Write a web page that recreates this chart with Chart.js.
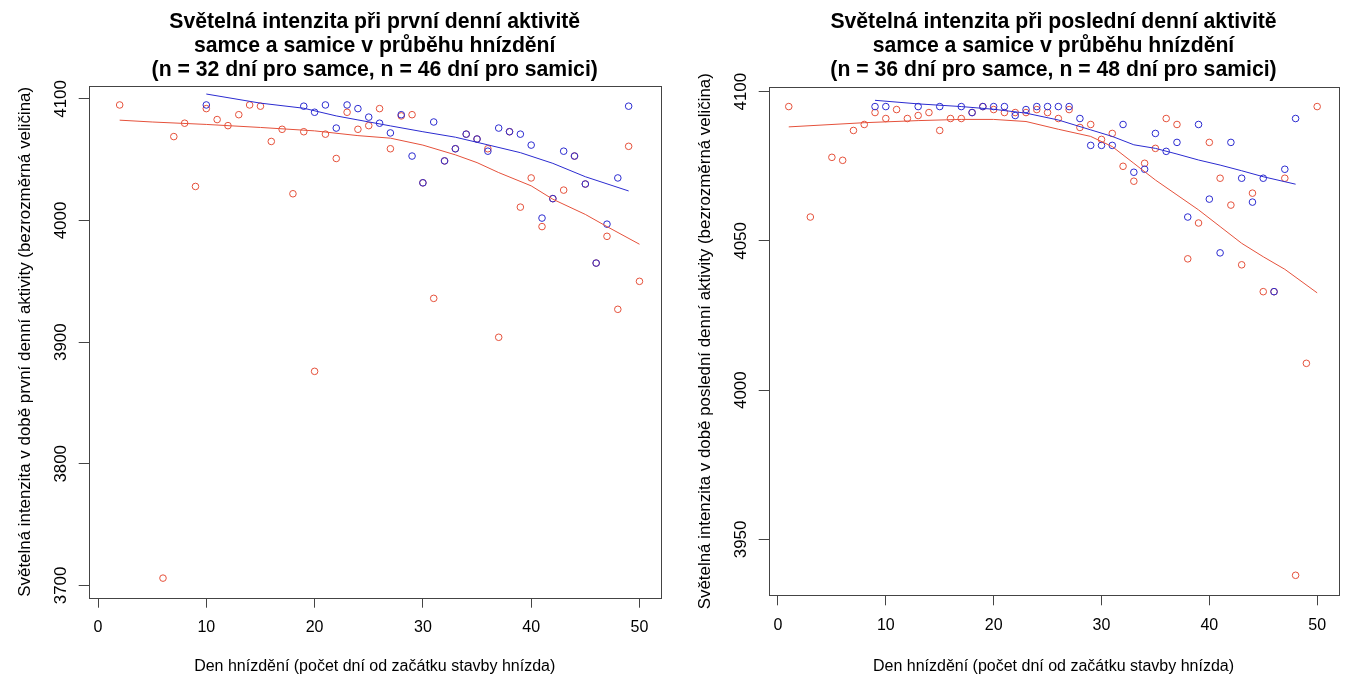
<!DOCTYPE html>
<html>
<head>
<meta charset="utf-8">
<title>Světelná intenzita</title>
<script src="https://cdn.jsdelivr.net/npm/chart.js@4"></script>
<style>
  body { margin: 0; background: #fff; overflow: hidden; }
  canvas { position: absolute; top: 0; }
  #first { left: 0; }
  #last { left: 673px; }
</style>
</head>
<body>
<canvas id="first" width="673" height="682"></canvas>
<canvas id="last" width="673" height="682"></canvas>
<script>
// tick labels
const dayTicks = [0, 10, 20, 30, 40, 50];
const firstLuxTicks = [3700, 3800, 3900, 4000, 4100];
const lastLuxTicks = [3950, 4000, 4050, 4100];

// first activity of the day - male
const firstMaleDays = [10, 19, 20, 21, 22, 23, 24, 25, 26, 27, 28, 29, 30, 31, 32, 33,
  34, 35, 36, 37, 38, 39, 40, 41, 42, 43, 44, 45, 46, 47, 48, 49];
const firstMaleLux = [4095, 4094, 4089, 4095, 4076, 4095, 4092, 4085, 4080, 4072, 4087, 4053, 4031, 4081, 4049, 4059,
  4071, 4067, 4057, 4076, 4073, 4071, 4062, 4002, 4018, 4057, 4053, 4030, 3965, 3997, 4035, 4094];

// first activity of the day - female
const firstFemaleDays = [2, 6, 7, 8, 9, 10, 11, 12, 13, 14, 15, 16, 17, 18, 19, 20, 21, 22, 23, 24, 25, 26, 27,
  28, 29, 30, 31, 32, 33, 34, 35, 36, 37, 38, 39, 40, 41, 42, 43, 44, 45, 46, 47, 48, 49, 50];
const firstFemaleLux = [4095, 3706, 4069, 4080, 4028, 4092, 4083, 4078, 4087, 4095, 4094, 4065, 4075, 4022, 4073, 3876, 4071, 4051, 4089, 4075, 4078, 4092, 4059,
  4086, 4087, 4031, 3936, 4049, 4059, 4071, 4067, 4059, 3904, 4073, 4011, 4035, 3995, 4018, 4025, 4053, 4030, 3965, 3987, 3927, 4061, 3950];

// smoothed trends, first activity
const firstMaleTrendDays = [10, 15, 19, 22, 24, 27, 30, 33, 36, 39, 42, 45, 49];
const firstMaleTrend = [4104, 4096.5, 4092.3, 4086, 4082.7, 4077.8, 4073, 4068.5, 4062.2, 4055.8, 4047, 4036, 4024.3];
const firstFemaleTrendDays = [2, 5, 10, 15, 20, 24, 27, 30, 33, 35, 37, 40, 42, 45, 47, 50];
const firstFemaleTrend = [4082.5, 4081, 4079, 4076.5, 4073.7, 4069.8, 4067.7, 4062, 4054, 4047.6, 4039.4, 4028.5, 4017.5, 4005, 3995, 3980.5];

// last activity of the day - male
const lastMaleDays = [9, 10, 13, 15, 17, 18, 19, 20, 21, 22, 23, 24, 25, 26, 27, 28, 29, 30,
  31, 32, 33, 34, 35, 36, 37, 38, 39, 40, 41, 42, 43, 44, 45, 46, 47, 48];
const lastMaleLux = [4095, 4095, 4095, 4095, 4095, 4093, 4095, 4095, 4095, 4092, 4094, 4095, 4095, 4095, 4095, 4091, 4082, 4082,
  4082, 4089, 4073, 4074, 4086, 4080, 4083, 4058, 4089, 4064, 4046, 4083, 4071, 4063, 4071, 4033, 4074, 4091];

// last activity of the day - female
const lastFemaleDays = [1, 3, 5, 6, 7, 8, 9, 10, 11, 12, 13, 14, 15, 16, 17, 18, 19, 20, 21, 22, 23, 24, 25, 26,
  27, 28, 29, 30, 31, 32, 33, 34, 35, 36, 37, 38, 39, 40, 41, 42, 43, 44, 45, 46, 47, 48, 49, 50];
const lastFemaleLux = [4095, 4058, 4078, 4077, 4087, 4089, 4093, 4091, 4094, 4091, 4092, 4093, 4087, 4091, 4091, 4093, 4095, 4094, 4093, 4093, 4093, 4094, 4093, 4091,
  4094, 4088, 4089, 4084, 4086, 4075, 4070, 4076, 4081, 4091, 4089, 4044, 4056, 4083, 4071, 4062, 4042, 4066, 4033, 4033, 4071, 3938, 4009, 4095];

// smoothed trends, last activity
const lastMaleTrendDays = [9, 13, 17, 20, 23, 26, 29, 31, 33, 35, 37, 39, 41, 43, 45, 48];
const lastMaleTrend = [4097.1, 4095.9, 4095, 4094.1, 4092.8, 4090.5, 4087.2, 4085, 4082.2, 4081, 4079.1, 4077.1, 4075.4, 4073.5, 4071.5, 4069];
const lastFemaleTrendDays = [1, 8, 13, 17, 20, 23, 26, 29, 31, 33, 35, 37, 39, 41, 43, 45, 47, 50];
const lastFemaleTrend = [4088.2, 4089.6, 4090.3, 4090.7, 4090.7, 4090, 4087.4, 4085, 4081.6, 4076, 4070.4, 4065.4, 4060.4, 4054.8, 4049.2, 4044.7, 4040.5, 4032.6];

const MALE = '#2b2bd0';
const FEMALE = '#e5513b';
const FONT = "'Liberation Sans', Arial, sans-serif";

Chart.defaults.font.family = FONT;
Chart.defaults.color = '#000';

function pts(xs, ys) {
  return xs.map((x, i) => ({ x: x, y: ys[i] }));
}

// R-style box around the plot region
const frame = {
  id: 'frame',
  afterDatasetsDraw(chart) {
    const a = chart.chartArea, c = chart.ctx;
    c.save();
    c.strokeStyle = '#444';
    c.lineWidth = 1;
    c.strokeRect(Math.round(a.left) + 0.5, Math.round(a.top) + 0.5,
      Math.round(a.right - a.left), Math.round(a.bottom - a.top));
    c.restore();
  }
};

// center the main title over the plot region, not over the whole canvas
const centerTitle = {
  id: 'centerTitle',
  afterLayout(chart) {
    const t = chart.titleBlock;
    if (!t) return;
    t.left = chart.chartArea.left;
    t.right = chart.chartArea.right;
    t.width = t.right - t.left;
  }
};

function drawPanel(id, p) {
  return new Chart(document.getElementById(id), {
    type: 'scatter',
    data: {
      datasets: [
        { data: pts(p.maleTrendDays, p.maleTrend), showLine: true, borderColor: MALE, borderWidth: 1, pointRadius: 0, order: 0 },
        { data: pts(p.femaleTrendDays, p.femaleTrend), showLine: true, borderColor: FEMALE, borderWidth: 1, pointRadius: 0, order: 1 },
        { data: pts(p.maleDays, p.maleLux), borderColor: MALE, backgroundColor: 'rgba(0,0,0,0)', pointRadius: 3.3, borderWidth: 1, order: 2 },
        { data: pts(p.femaleDays, p.femaleLux), borderColor: FEMALE, backgroundColor: 'rgba(0,0,0,0)', pointRadius: 3.3, borderWidth: 1, order: 3 }
      ]
    },
    plugins: [frame, centerTitle],
    options: {
      responsive: false,
      animation: false,
      events: [],
      layout: { padding: { right: p.padRight } },
      plugins: {
        legend: { display: false },
        tooltip: { enabled: false },
        title: {
          display: true,
          text: p.title,
          color: '#000',
          font: { size: 21.2, weight: 'bold', lineHeight: 1.13 },
          padding: { top: 10, bottom: p.titleGap }
        }
      },
      scales: {
        x: {
          type: 'linear',
          min: -0.86,
          max: 51.96,
          afterBuildTicks: s => { s.ticks = dayTicks.map(v => ({ value: v })); },
          afterFit: s => { s.height = p.xAxisHeight; },
          grid: { drawOnChartArea: false, tickLength: 10, color: '#444' },
          border: { display: false },
          ticks: { padding: 10.2, maxRotation: 0, font: { size: 16 }, callback: v => String(v) },
          title: {
            display: true,
            text: 'Den hnízdění (počet dní od začátku stavby hnízda)',
            font: { size: 16 },
            padding: { top: 0, bottom: 6 }
          }
        },
        y: {
          type: 'linear',
          min: p.yMin,
          max: p.yMax,
          afterBuildTicks: s => { s.ticks = p.yTicks.map(v => ({ value: v })); },
          afterFit: s => { s.width = p.yAxisWidth; },
          grid: { drawOnChartArea: false, tickLength: 10, color: '#444' },
          border: { display: false },
          ticks: { padding: -1.7, minRotation: 90, maxRotation: 90, crossAlign: 'center', font: { size: 16.9 }, callback: v => String(v) },
          title: {
            display: true,
            text: p.yTitle,
            font: { size: 16.9 },
            padding: { top: p.yTitlePad, bottom: 0 }
          }
        }
      }
    }
  });
}

drawPanel('first', {
  title: ['Světelná intenzita při první denní aktivitě', 'samce a samice v průběhu hnízdění', '(n = 32 dní pro samce, n = 46 dní pro samici)'],
  yTitle: 'Světelná intenzita v době první denní aktivity (bezrozměrná veličina)',
  maleDays: firstMaleDays, maleLux: firstMaleLux,
  femaleDays: firstFemaleDays, femaleLux: firstFemaleLux,
  maleTrendDays: firstMaleTrendDays, maleTrend: firstMaleTrend,
  femaleTrendDays: firstFemaleTrendDays, femaleTrend: firstFemaleTrend,
  yTicks: firstLuxTicks, yMin: 3689.9, yMax: 4110.7,
  yAxisWidth: 88.7, xAxisHeight: 84.3, padRight: 12.3, titleGap: 4, yTitlePad: 15.2
});

drawPanel('last', {
  title: ['Světelná intenzita při poslední denní aktivitě', 'samce a samice v průběhu hnízdění', '(n = 36 dní pro samce, n = 48 dní pro samici)'],
  yTitle: 'Světelná intenzita v době poslední denní aktivity (bezrozměrná veličina)',
  maleDays: lastMaleDays, maleLux: lastMaleLux,
  femaleDays: lastFemaleDays, femaleLux: lastFemaleLux,
  maleTrendDays: lastMaleTrendDays, maleTrend: lastMaleTrend,
  femaleTrendDays: lastFemaleTrendDays, femaleTrend: lastFemaleTrend,
  yTicks: lastLuxTicks, yMin: 3931.3, yMax: 4101.5,
  yAxisWidth: 95.7, xAxisHeight: 86.7, padRight: 7.7, titleGap: 5.3, yTitlePad: 21.9
});
</script>
</body>
</html>
